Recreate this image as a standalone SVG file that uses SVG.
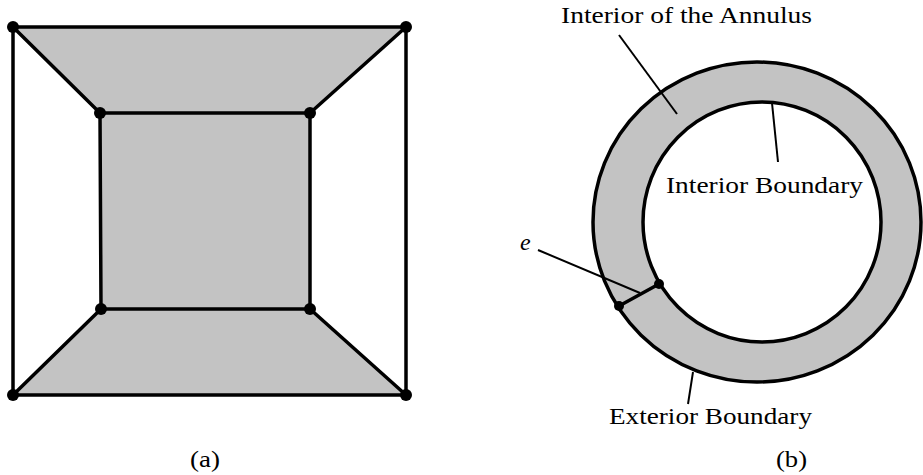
<svg xmlns="http://www.w3.org/2000/svg" width="923" height="475" viewBox="0 0 923 475">
<style>
.sh{fill:#c3c3c3;stroke:none}
.ed{stroke:#000;stroke-width:3.5;fill:none;stroke-linecap:round}
.ld{stroke:#000;stroke-width:2;fill:none}
.v{fill:#000}
text{font-family:"Liberation Serif","DejaVu Serif",serif;font-size:24px;fill:#000}
</style>
<rect width="923" height="475" fill="#fff"/>
<g id="graph-a">
<polygon class="sh" points="13,27 406,27 310,113 100,113"/>
<rect class="sh" x="100" y="113" width="210" height="196"/>
<polygon class="sh" points="101,309 310,309 406,395 13,395"/>
<g id="edges-a">
<line class="ed" x1="13" y1="27" x2="406" y2="27"/>
<line class="ed" x1="13" y1="395" x2="406" y2="395"/>
<line class="ed" x1="13" y1="27" x2="13" y2="395"/>
<line class="ed" x1="406" y1="27" x2="406" y2="395"/>
<line class="ed" x1="100" y1="113" x2="310" y2="113"/>
<line class="ed" x1="101" y1="309" x2="310" y2="309"/>
<line class="ed" x1="100" y1="113" x2="101" y2="309"/>
<line class="ed" x1="310" y1="113" x2="310" y2="309"/>
<line class="ed" x1="13" y1="27" x2="100" y2="113"/>
<line class="ed" x1="406" y1="27" x2="310" y2="113"/>
<line class="ed" x1="13" y1="395" x2="101" y2="309"/>
<line class="ed" x1="406" y1="395" x2="310" y2="309"/>
</g>
<g id="vertices-a">
<circle class="v" cx="13" cy="27" r="6"/>
<circle class="v" cx="406" cy="27" r="6"/>
<circle class="v" cx="13" cy="395" r="6"/>
<circle class="v" cx="406" cy="395" r="6"/>
<circle class="v" cx="100" cy="113" r="6"/>
<circle class="v" cx="310" cy="113" r="6"/>
<circle class="v" cx="101" cy="309" r="6"/>
<circle class="v" cx="310" cy="309" r="6"/>
</g>
</g>
<g id="annulus">
<path fill="#c3c3c3" fill-rule="evenodd" stroke="none" d="M593,222 a164,160 0 1,0 328,0 a164,160 0 1,0 -328,0 Z M643,222 a119,120 0 1,0 238,0 a119,120 0 1,0 -238,0 Z"/>
<ellipse cx="757" cy="222" rx="164" ry="160" fill="none" stroke="#000" stroke-width="3.5"/>
<ellipse cx="762" cy="222" rx="119" ry="120" fill="none" stroke="#000" stroke-width="3.5"/>
</g>
<g id="edge-e">
<line class="ed" x1="619" y1="306" x2="659" y2="284"/>
<circle class="v" cx="619" cy="306" r="5"/>
<circle class="v" cx="659" cy="284" r="5"/>
</g>
<g id="connectors">
<line class="ld" x1="619" y1="35" x2="677" y2="114"/>
<line class="ld" x1="772" y1="103" x2="778" y2="162"/>
<line class="ld" x1="693" y1="372" x2="688" y2="404"/>
<line class="ld" x1="538" y1="250" x2="640" y2="293"/>
</g>
<g id="labels">
<text x="561" y="23" textLength="251" lengthAdjust="spacingAndGlyphs">Interior of the Annulus</text>
<text x="666" y="193" textLength="197" lengthAdjust="spacingAndGlyphs">Interior Boundary</text>
<text x="609" y="424" textLength="203" lengthAdjust="spacingAndGlyphs">Exterior Boundary</text>
<text x="520" y="250" font-style="italic">e</text>
<text x="190" y="467" textLength="30" lengthAdjust="spacingAndGlyphs">(a)</text>
<text x="776" y="467" textLength="31" lengthAdjust="spacingAndGlyphs">(b)</text>
</g>
</svg>
